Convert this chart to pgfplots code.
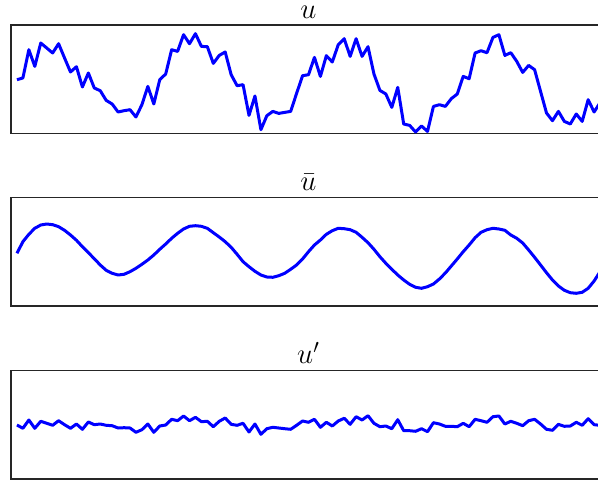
\documentclass[border=0pt]{standalone}
\usepackage{pgfplots}
\usepackage{pgfplotstable}
\pgfplotsset{compat=1.18}

\pgfplotstableread{
k h
1 54
2 55.7
3 84
4 67.3
5 90.7
6 85.7
7 80.7
8 90
9 75.7
10 61.7
11 67
12 46.7
13 60.7
14 45.7
15 43
16 33.3
17 29.7
18 21.7
19 23
20 24
21 16.7
22 29
23 47.3
24 29.7
25 54
26 59.7
27 84
28 82.3
29 99
30 90
31 100
32 87.3
33 87
34 70.3
35 78.3
36 81.7
37 59
38 48
39 49
40 18.3
41 37.7
42 4
43 18
44 22.3
45 20.3
46 21.3
47 22.3
48 40.3
49 58
50 59
51 76.3
52 57.3
53 78
54 71.7
55 89
56 95
57 77.3
58 95
59 77.3
60 87
61 59.7
62 43.3
63 39.7
64 26.3
65 46.3
66 9.7
67 8.3
68 1.7
69 7.7
70 2.3
71 27.3
72 29
73 27.3
74 35
75 39.7
76 57.3
77 55
78 80.7
79 83
80 81
81 96.3
82 99
83 78.3
84 81
85 72.3
86 61.3
87 68.3
88 64
89 42.3
90 20.7
91 13
92 22.3
93 12.3
94 9.7
95 19.7
96 12.3
97 34
98 21.7
99 31
}\udata

\pgfplotstableread{
k h
1 52.7
2 64.3
3 71.7
4 77.7
5 81
6 82
7 81.3
8 79.3
9 75.7
10 71
11 65.7
12 59.3
13 53.3
14 47.3
15 41
16 35.7
17 32.7
18 31
19 31.7
20 34.3
21 37.7
22 41.7
23 46
24 51
25 56.7
26 62
27 67.7
28 72.7
29 77
30 79.7
31 80.3
32 79.7
33 77.7
34 73.3
35 69
36 64.3
37 58.7
38 51.7
39 44.3
40 39.3
41 34.7
42 31
43 29
44 28.7
45 30.3
46 32.7
47 36.7
48 41
49 47
50 54.3
51 61
52 66
53 71.7
54 75.3
55 77.7
56 77.3
57 76.3
58 73.7
59 68.7
60 63.3
61 56.7
62 49.3
63 42.7
64 36.7
65 31
66 26
67 21.7
68 18.7
69 17.7
70 19.3
71 22
72 27
73 33
74 40
75 47
76 54.3
77 61
78 68.3
79 73.7
80 76.3
81 77.7
82 77
83 75.7
84 71
85 67.7
86 63
87 56
88 48.7
89 41
90 33.3
91 26
92 20
93 15.7
94 13.3
95 12.7
96 13.7
97 17.7
98 25
99 34.3
}\ubardata

\pgfplotstableread{
k h
1 54
2 50.7
3 59
4 50.7
5 57.7
6 55.7
7 53.7
8 58.3
9 54.3
10 50.7
11 55
12 49.7
13 57
14 54.3
15 55
16 53.7
17 53.3
18 51
19 51.3
20 51
21 46.7
22 49.3
23 55
24 46.7
25 53
26 54
27 59.7
28 58.3
29 63
30 58.3
31 61.7
32 57.3
33 57.7
34 52.3
35 57.7
36 61
37 54.7
38 53.7
39 55.7
40 47
41 55
42 44.7
43 50.3
44 51.7
45 51
46 50.3
47 49.7
48 53.7
49 58
50 56.7
51 59.7
52 51.7
53 56.7
54 53
55 58
56 60.7
57 54.7
58 62.3
59 59
60 63.3
61 55.7
62 52.3
63 53
64 50.3
65 59.3
66 48.3
67 48.3
68 47.7
69 50.3
70 47.3
71 56.3
72 55
73 52.7
74 52.7
75 52.3
76 55.7
77 52.3
78 59.7
79 58.3
80 56.7
81 62.3
82 63
83 55
84 57.7
85 55.7
86 53.3
87 58.3
88 59.7
89 55
90 49.7
91 48.7
92 54.7
93 52.7
94 53
95 56.7
96 53.7
97 60.3
98 54.3
99 53.7
}\uprimedata

\pgfplotsset{
  panel/.style={
    scale only axis,
    width=297.5pt,
    height=54.25pt,
    anchor=south west,
    xmin=0, xmax=100,
    ymin=0, ymax=108.5,
    xtick=\empty, ytick=\empty,
    axis line style={line width=0.8pt, black!85},
    title style={font=\fontsize{14}{16}\selectfont, inner sep=0pt, anchor=base, yshift=-2.6pt},
  },
  curve/.style={blue, line width=1.5pt, line join=round, mark=none},
}

\begin{document}
\begin{tikzpicture}
\begin{axis}[panel, at={(5.5pt,174.15pt)}, title={$u$}]
  \addplot[curve] table[x=k, y=h] {\udata};
\end{axis}
\begin{axis}[panel, at={(5.5pt,88pt)}, title={$\bar{u}$}]
  \addplot[curve] table[x=k, y=h] {\ubardata};
\end{axis}
\begin{axis}[panel, at={(5.5pt,1.5pt)}, title={$u'$}]
  \addplot[curve] table[x=k, y=h] {\uprimedata};
\end{axis}
\pgfresetboundingbox
\useasboundingbox (0pt,0pt) rectangle (299pt,241pt);
\end{tikzpicture}
\end{document}
